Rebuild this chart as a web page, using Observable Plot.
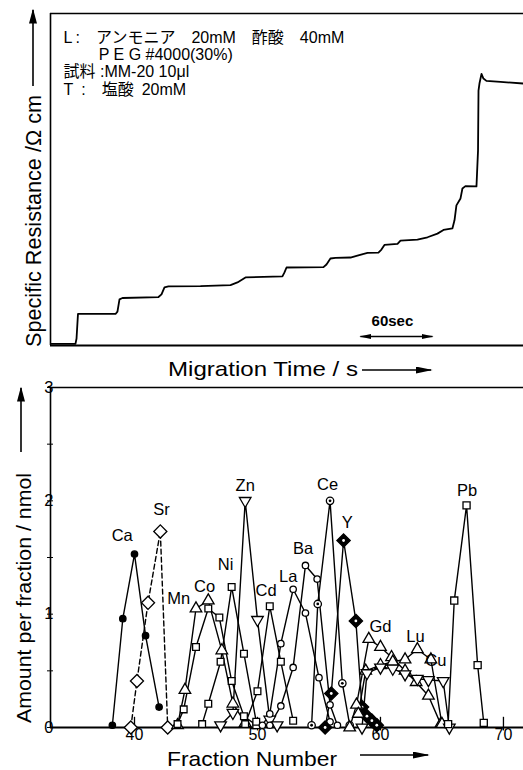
<!DOCTYPE html>
<html>
<head>
<meta charset="utf-8">
<script src="https://cdn.jsdelivr.net/npm/d3@7"></script>
<script src="https://cdn.jsdelivr.net/npm/@observablehq/plot@0.6"></script>
<style>
  body { margin: 0; background: #fff; }
  #chart { width: 523px; height: 770px; position: relative; overflow: hidden; background: #fff; }
  #chart svg { display: block; }
</style>
</head>
<body>
<div id="chart"></div>
<script>
const FONT = '"Liberation Sans", Arial, "Noto Sans CJK JP", sans-serif';

// ---------- Top panel: specific resistance trace (time in s, resistance in arbitrary units) ----------
const migrationTime = [0.8, 20.8, 21.7, 22.9, 54.2, 55.8, 57.5, 60, 90, 92.5, 95, 98.3, 125, 150, 155.8, 162.5,
  193.3, 195, 196.7, 227.5, 230, 233.3, 237.5, 250, 255.8, 264.2, 273.3, 275.8, 278.3, 289.2, 291.7, 305.8,
  314.2, 322.5, 327.5, 335, 336.7, 338.3, 341.7, 343.3, 345.8, 355, 356.3, 356.7, 357.5, 359.2, 360.8, 363.3, 375, 394.2];
const resistance = [0.5, 0.5, 2.1, 9.5, 9.5, 10.2, 13.9, 14.3, 14.6, 15.4, 17.5, 17.8, 17.9, 18.2, 19.0, 20.5,
  20.8, 22.0, 23.5, 23.6, 24.4, 26.2, 26.4, 26.5, 27.1, 27.9, 28.0, 28.9, 30.3, 30.6, 31.6, 31.9,
  32.6, 33.7, 34.8, 35.3, 37.7, 42.2, 44.3, 47.3, 48.0, 47.9, 58.7, 76.8, 78.9, 81.8, 80.4, 79.7, 79.4, 78.9];
const conditionLines = [
  "L\u2009:\u2003アンモニア\u200320mM\u2003酢酸\u200340mM",
  "\u2003\u2003\u2009P E G #4000(30%)",
  "試料 :MM-20 10μl",
  "T\u2002:\u2003塩酸\u200220mM"
];
const scaleBarStart = 258.3;   // s
const scaleBarLength = 60;     // s
const scaleBarLabel = "60sec";

// ---------- Bottom panel: amount per fraction (nmol) vs fraction number ----------
const elements = ["Ca", "Sr", "Mn", "Co", "Ni", "Zn", "Cd", "La", "Ba", "Ce", "Y", "Gd", "Lu", "Cu", "Pb"];
const caFraction = [38.2, 39.05, 40.0, 40.9, 42.0];
const caAmount   = [0.02, 0.96, 1.53, 0.81, 0.18];
const srFraction = [39.7, 40.2, 41.1, 42.1, 42.7];
const srAmount   = [0.0, 0.41, 1.10, 1.73, 0.0];
const mnFraction = [43.5, 44.1, 45.0, 46.0, 47.1, 48.0, 49.0];
const mnAmount   = [0.02, 0.33, 1.05, 1.12, 0.68, 0.21, 0.04];
const coFraction = [43.5, 44.0, 45.0, 46.0, 46.9, 47.9, 48.9, 49.9];
const coAmount   = [0.03, 0.16, 0.71, 1.05, 0.97, 0.41, 0.10, 0.02];
const niFraction = [45.5, 46.0, 47.0, 47.9, 48.9, 49.9];
const niAmount   = [0.03, 0.21, 0.58, 1.24, 0.65, 0.05];
const znFraction = [47.0, 48.0, 49.0, 50.0, 51.0, 51.6];
const znAmount   = [0.02, 0.13, 2.00, 0.95, 0.07, 0.02];
const cdFraction = [49.0, 50.0, 51.0, 51.9, 52.9];
const cdAmount   = [0.03, 0.32, 1.07, 0.58, 0.06];
const laFraction = [50.4, 51.0, 51.9, 52.9, 53.9, 55.0, 55.9];
const laAmount   = [0.02, 0.12, 0.74, 1.22, 1.01, 0.44, 0.05];
const baFraction = [51.0, 51.9, 52.9, 53.9, 54.85, 55.9, 56.5];
const baAmount   = [0.02, 0.19, 0.53, 1.43, 1.31, 0.20, 0.02];
const ceFraction = [54.4, 54.9, 55.9, 56.9, 57.5];
const ceAmount   = [0.02, 1.09, 2.00, 0.39, 0.02];
const yFraction  = [55.5, 56.0, 57.0, 58.0, 58.5, 58.9, 59.3, 59.7];
const yAmount    = [0.0, 0.30, 1.65, 0.94, 0.18, 0.10, 0.06, 0.02];
const gdFraction = [57.5, 58.05, 59.05, 60.0, 60.9, 62.0, 62.9, 63.9, 64.9];
const gdAmount   = [0.0, 0.20, 0.78, 0.71, 0.62, 0.50, 0.40, 0.28, 0.03];
const luFraction = [58.2, 58.8, 60.0, 61.0, 62.0, 63.0, 64.1, 65.0];
const luAmount   = [0.12, 0.50, 0.55, 0.58, 0.60, 0.69, 0.60, 0.03];
const cuFraction = [58.5, 58.9, 60.0, 61.0, 62.0, 63.0, 63.9, 65.1, 65.6];
const cuAmount   = [0.0, 0.48, 0.53, 0.52, 0.47, 0.43, 0.42, 0.41, 0.0];
const pbFraction = [65.5, 66.0, 67.0, 67.9, 68.4];
const pbAmount   = [0.03, 1.12, 1.96, 0.55, 0.04];
// where each element's name is written (fraction, nmol)
const labelFraction = [39.0, 42.2, 43.6, 45.7, 47.4, 49.0, 50.7, 52.5, 53.7, 55.7, 57.3, 60.0, 62.85, 64.5, 67.05];
const labelAmount   = [1.69, 1.92, 1.14, 1.24, 1.44, 2.13, 1.21, 1.33, 1.58, 2.14, 1.81, 0.89, 0.80, 0.59, 2.09];
const yTicks = [0, 1, 2, 3];
const yMinorTicks = [0, 0.5, 1, 1.5, 2, 2.5, 3];
const xTicks = [40, 50, 60, 70];

// ---------- helpers ----------
const triangleDown = {
  draw(context, size) {
    const y = -Math.sqrt(size / (3 * Math.sqrt(3)));
    context.moveTo(0, -y * 2);
    context.lineTo(-Math.sqrt(3) * y, y);
    context.lineTo(Math.sqrt(3) * y, y);
    context.closePath();
  }
};

function addMarker(svg, id, len, wid) {
  let defs = d3.select(svg).select("defs");
  if (defs.empty()) defs = d3.select(svg).insert("defs", ":first-child");
  defs.append("marker").attr("id", id)
    .attr("viewBox", "0 0 10 10").attr("preserveAspectRatio", "none")
    .attr("refX", 9).attr("refY", 5)
    .attr("markerUnits", "userSpaceOnUse")
    .attr("markerWidth", len).attr("markerHeight", wid)
    .attr("orient", "auto-start-reverse")
    .append("path").attr("d", "M0,0L10,5L0,10Z").attr("fill", "black");
}
function drawArrow(svg, id, x1, y1, x2, y2) {
  d3.select(svg).append("line")
    .attr("x1", x1).attr("y1", y1).attr("x2", x2).attr("y2", y2)
    .attr("stroke", "black").attr("stroke-width", 1.6)
    .attr("marker-end", `url(#${id})`);
}
function addLabel(svg, str, x, y, {size = 21, anchor = "start", rotate = 0, length = null} = {}) {
  const t = d3.select(svg).append("text")
    .attr("transform", `translate(${x},${y}) rotate(${rotate})`)
    .attr("text-anchor", anchor)
    .attr("font-family", FONT).attr("font-size", size).attr("fill", "black")
    .text(str);
  if (length) t.attr("textLength", length).attr("lengthAdjust", "spacingAndGlyphs");
}

// ---------- Top plot ----------
const resRows = migrationTime.map((t, i) => ({t, r: resistance[i]}));
const scaleBar = [{x1: scaleBarStart, x2: scaleBarStart + scaleBarLength, y: 2.7}];

const topPlot = Plot.plot({
  width: 523, height: 380,
  marginTop: 13, marginBottom: 35, marginLeft: 50, marginRight: 0,
  x: {domain: [0, 394.2], axis: null},
  y: {domain: [0, 100], axis: null},
  style: {fontFamily: FONT, fontSize: "15px", background: "white", overflow: "visible"},
  marks: [
    Plot.ruleY([100], {stroke: "black", strokeWidth: 1.4}),
    Plot.ruleY([0], {stroke: "black", strokeWidth: 2}),
    Plot.ruleX([0], {stroke: "black", strokeWidth: 1.6}),
    Plot.line(resRows, {x: "t", y: "r", stroke: "black", strokeWidth: 1.8, strokeLinejoin: "round"}),
    Plot.text([conditionLines.join("\n")], {
      frameAnchor: "top-left", dx: 13, dy: 17, fontSize: 16, lineHeight: 1.08,
      textAnchor: "start", lineAnchor: "top", fill: "black"
    }),
    Plot.link(scaleBar, {x1: "x1", x2: "x2", y1: "y", y2: "y", stroke: "black", strokeWidth: 1.6, className: "scalebar"}),
    Plot.text([scaleBarLabel], {x: scaleBarStart + scaleBarLength / 2, y: 7.2, dx: -4, fontSize: 15, fontWeight: "bold", fill: "black"})
  ]
});
addMarker(topPlot, "ahTopV", 15, 8);
addMarker(topPlot, "ahTopH", 17, 7);
addMarker(topPlot, "ahScale", 12, 5);
d3.select(topPlot).selectAll(".scalebar path")
  .attr("marker-start", "url(#ahScale)").attr("marker-end", "url(#ahScale)");
drawArrow(topPlot, "ahTopV", 33, 86, 33, 10);
addLabel(topPlot, "Specific Resistance /Ω cm", 40.5, 221, {size: 21.5, anchor: "middle", rotate: -90, length: 252});
addLabel(topPlot, "Migration Time / s", 168, 376, {size: 21, length: 190});
drawArrow(topPlot, "ahTopH", 362, 370, 431, 370);

// ---------- Bottom plot ----------
const seriesData = {
  Ca: [caFraction, caAmount], Sr: [srFraction, srAmount], Mn: [mnFraction, mnAmount], Co: [coFraction, coAmount],
  Ni: [niFraction, niAmount], Zn: [znFraction, znAmount], Cd: [cdFraction, cdAmount], La: [laFraction, laAmount],
  Ba: [baFraction, baAmount], Ce: [ceFraction, ceAmount], Y: [yFraction, yAmount], Gd: [gdFraction, gdAmount],
  Lu: [luFraction, luAmount], Cu: [cuFraction, cuAmount], Pb: [pbFraction, pbAmount]
};
const seriesStyle = {
  Ca: {symbol: "circle", fill: "black", r: 3.2},
  Sr: {symbol: "diamond2", fill: "white", r: 5.9, dash: "5,3"},
  Mn: {symbol: "triangle", fill: "white", r: 4.3},
  Co: {symbol: "square", fill: "white", r: 3.8},
  Ni: {symbol: "square", fill: "white", r: 3.8},
  Zn: {symbol: triangleDown, fill: "white", r: 4.3},
  Cd: {symbol: "square", fill: "white", r: 3.8},
  La: {symbol: "circle", fill: "white", r: 3.2},
  Ba: {symbol: "circle", fill: "white", r: 3.2},
  Ce: {symbol: "circle", fill: "white", r: 3.7, inner: "black"},
  Y:  {symbol: "diamond2", fill: "black", r: 6, inner: "white"},
  Gd: {symbol: "triangle", fill: "white", r: 4.3},
  Lu: {symbol: "triangle", fill: "white", r: 4.3},
  Cu: {symbol: triangleDown, fill: "white", r: 4.3},
  Pb: {symbol: "square", fill: "white", r: 4}
};
const rowsOf = name => seriesData[name][0].map((f, i) => ({fraction: f, amount: seriesData[name][1][i], element: name}));

const lineMarks = elements.map(name => Plot.line(rowsOf(name), {
  x: "fraction", y: "amount", stroke: "black", strokeWidth: 1.4,
  strokeDasharray: seriesStyle[name].dash || null
}));
const dotMarks = elements.flatMap(name => {
  const s = seriesStyle[name];
  const marks = [Plot.dot(rowsOf(name), {
    x: "fraction", y: "amount", symbol: s.symbol, r: s.r,
    fill: s.fill, stroke: "black", strokeWidth: 1.3
  })];
  if (s.inner) marks.push(Plot.dot(rowsOf(name), {x: "fraction", y: "amount", r: 1.4, fill: s.inner, stroke: "none"}));
  return marks;
});
const labelRows = elements.map((name, i) => ({name, x: labelFraction[i], y: labelAmount[i]}));

const bottomPlot = Plot.plot({
  width: 523, height: 390,
  marginTop: 7, marginBottom: 43, marginLeft: 50, marginRight: 0,
  x: {domain: [33.17, 71.63], axis: null},
  y: {domain: [0, 3], axis: null},
  style: {fontFamily: FONT, fontSize: "15px", background: "white", overflow: "visible"},
  marks: [
    Plot.tickY(yMinorTicks, {y: d => d, x: null, stroke: "black", strokeWidth: 1, insetLeft: -3, insetRight: 470}),
    Plot.text(yTicks, {y: d => d, text: d => String(d), frameAnchor: "left", textAnchor: "end", dx: 3, fontSize: 16.5, fill: "black"}),
    Plot.text(xTicks, {x: d => d, text: d => String(d), frameAnchor: "bottom", lineAnchor: "top", dy: 1, fontSize: 16, fill: "black"}),
    Plot.ruleX(xTicks, {y1: -0.03, y2: 0.09, stroke: "black", strokeWidth: 1.3}),
    Plot.ruleY([3], {stroke: "black", strokeWidth: 1.4}),
    Plot.ruleY([0], {stroke: "black", strokeWidth: 1.8}),
    Plot.ruleX([33.17], {stroke: "black", strokeWidth: 1.6}),
    ...lineMarks,
    ...dotMarks,
    Plot.text(labelRows, {x: "x", y: "y", text: "name", fontSize: 16.5, fill: "black"})
  ]
});
addMarker(bottomPlot, "ahBotV", 15, 8);
addMarker(bottomPlot, "ahBotH", 17, 7);
drawArrow(bottomPlot, "ahBotV", 21, 72, 21, 8);
addLabel(bottomPlot, "Amount per fraction / nmol", 30.5, 218, {size: 21, anchor: "middle", rotate: -90, length: 250});
addLabel(bottomPlot, "Fraction Number", 167, 386, {size: 21, length: 170});
drawArrow(bottomPlot, "ahBotH", 360, 375, 428, 375);

const chart = document.getElementById("chart");
chart.appendChild(topPlot);
chart.appendChild(bottomPlot);
</script>
</body>
</html>
